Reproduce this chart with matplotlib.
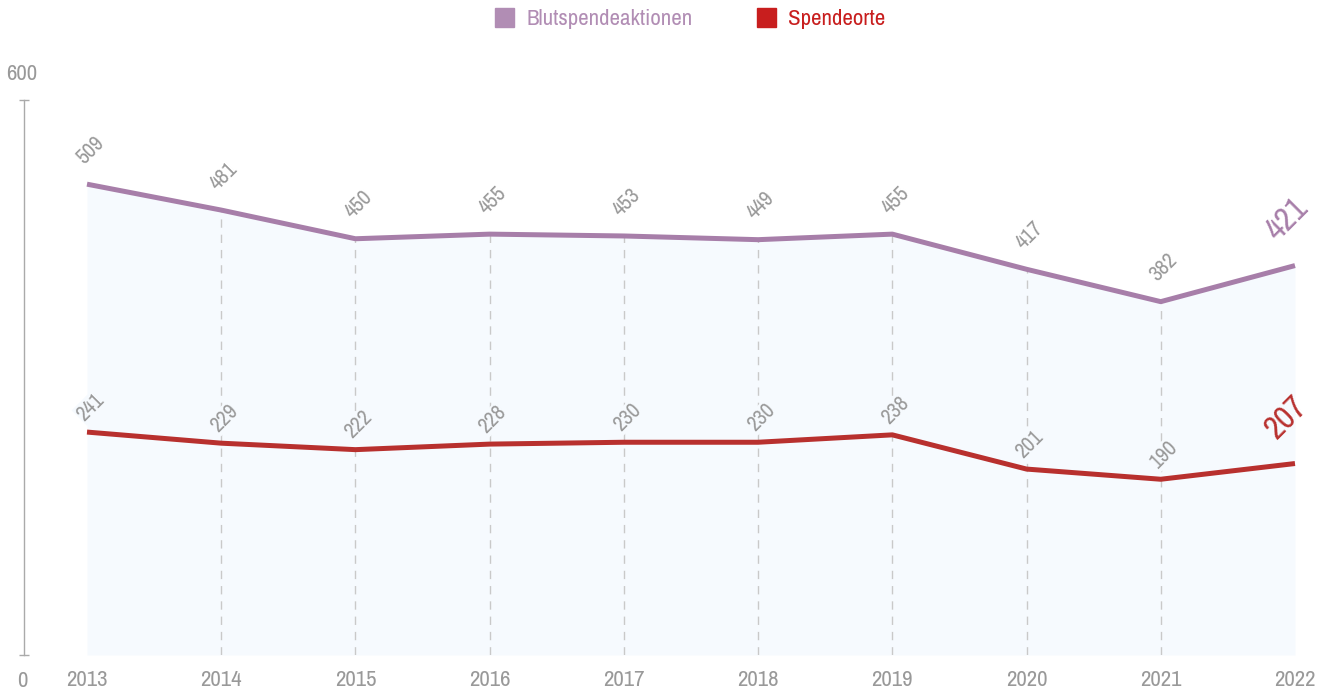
import matplotlib
matplotlib.use('Agg')
import matplotlib.pyplot as plt
from matplotlib import font_manager
from matplotlib.lines import Line2D

names = sorted({f.name for f in font_manager.fontManager.ttflist})
cond = [n for n in names if 'Condensed' in n or 'Narrow' in n]
plt.rcParams['font.family'] = cond[:1] + ['Roboto', 'DejaVu Sans']

years = [2013, 2014, 2015, 2016, 2017, 2018, 2019, 2020, 2021, 2022]
aktionen = [509, 481, 450, 455, 453, 449, 455, 417, 382, 421]
orte = [241, 229, 222, 228, 230, 230, 238, 201, 190, 207]
labels = ['Blutspendeaktionen', 'Spendeorte']

purple = '#a77ea9'
red = '#b8302e'
gray = '#999999'
fill = '#f6fafe'
px = 0.72  # points per pixel at dpi 100

fig = plt.figure(figsize=(13.26, 6.92), dpi=100)
ax = fig.add_axes([24 / 1326, 37 / 692, 1302 / 1326, 555 / 692])
ax.set_ylim(0, 600)
ax.set_xlim(2013 - 63 / 134.22, 2013 + 1239 / 134.22)

ax.fill_between(years, 0, aktionen, color=fill, lw=0, zorder=1)
ax.vlines(years[1:-1], 0, aktionen[1:-1], colors='#c9c9c9', lw=1,
          linestyles=(0, (6, 5)), zorder=2)
ax.plot(years, aktionen, color=purple, lw=5 * px, zorder=3, solid_capstyle='butt')
ax.plot(years, orte, color=red, lw=5 * px, zorder=3, solid_capstyle='butt')

# value labels
for series, color, dy, bg in [(aktionen, purple, 34, 'none'), (orte, red, 25, fill)]:
    for i, (x, v) in enumerate(zip(years, series)):
        last = i == len(years) - 1
        ax.annotate(str(v), (x, v), textcoords='offset points',
                    xytext=((-8 if last else 3) * px, (46 if last else dy) * px),
                    rotation=45, rotation_mode='anchor', ha='center', va='center',
                    fontsize=24 if last else 15.5, color=color if last else gray,
                    bbox=dict(fc=bg if not last else 'none', ec='none', pad=0.5),
                    zorder=4)

# axes styling
for s in ['top', 'right', 'bottom']:
    ax.spines[s].set_visible(False)
ax.spines['left'].set_color('#aaaaaa')
ax.spines['left'].set_linewidth(1)
ax.set_yticks([0, 600])
ax.set_yticklabels([])
ax.tick_params(axis='y', direction='inout', length=10 * px, width=1, color='#aaaaaa')
ax.set_xticks(years)
ax.set_xticklabels([str(y) for y in years], fontsize=16.5, color=gray)
ax.tick_params(axis='x', length=0, pad=15 * px)

ax.annotate('600', (0, 600), xycoords=('axes fraction', 'data'), textcoords='offset points',
            xytext=(-2 * px, 26 * px), ha='center', va='center', fontsize=16.5, color=gray,
            annotation_clip=False)
ax.annotate('0', (0, 0), xycoords=('axes fraction', 'data'), textcoords='offset points',
            xytext=(-2 * px, -26 * px), ha='center', va='center', fontsize=16.5, color=gray,
            annotation_clip=False)

handles = [Line2D([], [], ls='none', marker='s', markersize=19 * px, color='#b18db4'),
           Line2D([], [], ls='none', marker='s', markersize=19 * px, color='#c81e1e')]
fig.legend(handles, labels, loc='center', bbox_to_anchor=(689 / 1326, 1 - 19 / 692),
           ncol=2, frameon=False, fontsize=16.5, labelcolor=['#b18db4', '#c81e1e'],
           handletextpad=0.48, columnspacing=2.7, handlelength=1.0)

fig.savefig('out.png', dpi=100)
